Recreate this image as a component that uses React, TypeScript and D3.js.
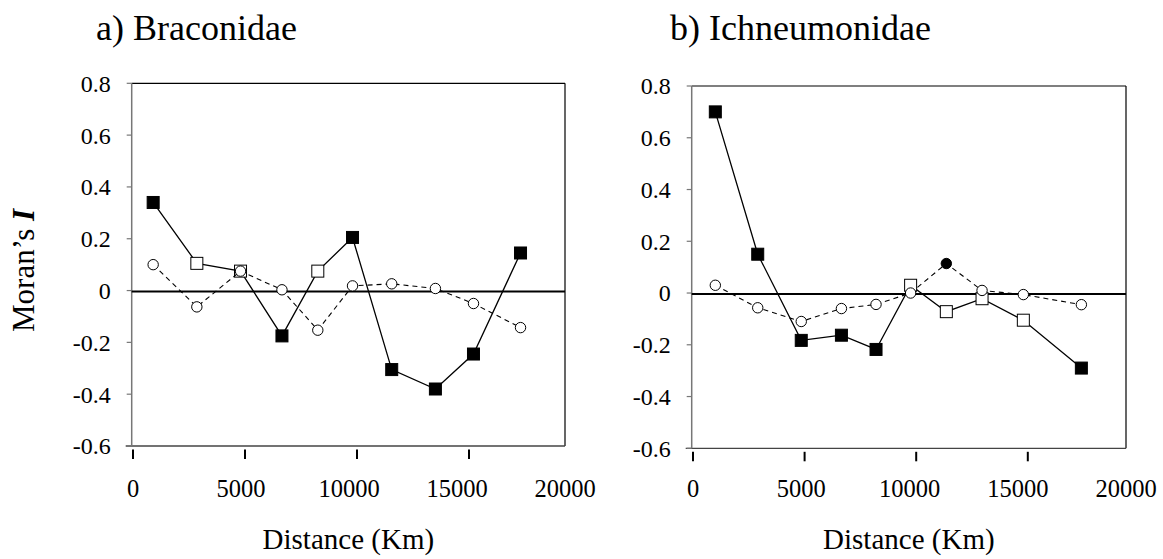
import React from "react";
import * as d3 from "d3";

// ---------- DATA ----------
const yTicks = [0.8, 0.6, 0.4, 0.2, 0, -0.2, -0.4, -0.6];
const xTicks = [0, 5000, 10000, 15000];
const xTickLabels = [0, 5000, 10000, 15000, 20000];

// a) Braconidae
const distA = [900, 2850, 4800, 6650, 8250, 9800, 11550, 13500, 15200, 17300];
const solidA = [0.34, 0.105, 0.075, -0.175, 0.075, 0.205, -0.305, -0.38, -0.245, 0.145];
const solidFilledA = [true, false, false, true, false, true, true, true, true, true];
const dashedA = [0.1, -0.063, 0.075, 0.003, -0.153, 0.018, 0.026, 0.008, -0.05, -0.143];
const dashedFilledA = [false, false, false, false, false, false, false, false, false, false];

// b) Ichneumonidae
const distB = [1000, 2900, 4850, 6650, 8200, 9750, 11350, 12950, 14800, 17400];
const solidB = [0.7, 0.15, -0.183, -0.163, -0.218, 0.03, -0.072, -0.022, -0.105, -0.29];
const solidFilledB = [true, true, true, true, true, false, false, false, false, true];
const dashedB = [0.03, -0.057, -0.11, -0.06, -0.044, 0.0, 0.114, 0.01, -0.006, -0.045];
const dashedFilledB = [false, false, false, false, false, false, true, false, false, false];

const FONT = "Liberation Serif, DejaVu Serif, serif";

type PanelProps = {
  title: string;
  titleX: number;
  left: number;
  right: number;
  top: number;
  bottom: number;
  xEnd: number;
  dist: number[];
  solid: number[];
  solidFilled: boolean[];
  dashed: number[];
  dashedFilled: boolean[];
};

function Panel(p: PanelProps) {
  const x = d3.scaleLinear().domain([0, 20000]).range([p.left + 1.3, p.xEnd]);
  const xl = d3.scaleLinear().domain([0, 20000]).range([p.left + 1.3, p.right]);
  const y = d3.scaleLinear().domain([-0.6, 0.8]).range([p.bottom, p.top]);

  const line = d3
    .line<[number, number]>()
    .x((d) => x(d[0]))
    .y((d) => y(d[1]));

  const solidPts = p.dist.map((d, i) => [d, p.solid[i]] as [number, number]);
  const dashedPts = p.dist.map((d, i) => [d, p.dashed[i]] as [number, number]);
  const sq = 12;

  return (
    <g>
      <text x={p.titleX} y={40} style={{ fontFamily: FONT }} fontSize={36} fill="#000">
        {p.title}
      </text>
      <line x1={p.left} y1={p.top} x2={p.right} y2={p.top} stroke="#000" strokeWidth={1.2} />
      <line x1={p.right} y1={p.top} x2={p.right} y2={p.bottom} stroke="#000" strokeWidth={1.2} />
      <line x1={p.left - 6} y1={p.bottom} x2={p.right} y2={p.bottom} stroke="#444" strokeWidth={1.3} />
      <line x1={p.left} y1={p.top} x2={p.left} y2={p.bottom} stroke="#777" strokeWidth={1.5} />
      {yTicks.map((t) => (
        <g key={t}>
          <line x1={p.left - 5} x2={p.left} y1={y(t)} y2={y(t)} stroke="#777" strokeWidth={1.2} />
          <text
            x={p.left - 21}
            y={y(t)}
            dy="0.35em"
            textAnchor="end"
            style={{ fontFamily: FONT }}
            fontSize={24}
            fill="#000"
          >
            {String(t)}
          </text>
        </g>
      ))}
      <line x1={p.left} x2={p.right} y1={y(0) + 1} y2={y(0) + 1} stroke="#000" strokeWidth={2} />
      {xTicks.map((t) => (
        <line key={t} x1={x(t)} x2={x(t)} y1={p.bottom + 3.5} y2={p.bottom + 13} stroke="#000" strokeWidth={2} />
      ))}
      {xTickLabels.map((t) => (
        <text
          key={t}
          x={xl(t)}
          y={497}
          textAnchor="middle"
          style={{ fontFamily: FONT }}
          fontSize={24.5}
          fill="#000"
        >
          {String(t)}
        </text>
      ))}
      <text
        x={(p.left + p.right) / 2}
        y={549}
        textAnchor="middle"
        style={{ fontFamily: FONT }}
        fontSize={29}
        fill="#000"
      >
        Distance (Km)
      </text>
      <path d={line(solidPts) || ""} fill="none" stroke="#000" strokeWidth={1.3} />
      {solidPts.map((d, i) => (
        <rect
          key={"s" + i}
          x={x(d[0]) - sq / 2}
          y={y(d[1]) - sq / 2}
          width={sq}
          height={sq}
          fill={p.solidFilled[i] ? "#000" : "#fff"}
          stroke="#000"
          strokeWidth={1}
        />
      ))}
      <path d={line(dashedPts) || ""} fill="none" stroke="#000" strokeWidth={1.1} strokeDasharray="5,4" />
      {dashedPts.map((d, i) => (
        <circle
          key={"c" + i}
          cx={x(d[0])}
          cy={y(d[1])}
          r={5.2}
          fill={p.dashedFilled[i] ? "#000" : "#fff"}
          stroke="#000"
          strokeWidth={1}
        />
      ))}
    </g>
  );
}

export default function App() {
  return (
    <svg
      width={1163}
      height={559}
      style={{ position: "absolute", left: 0, top: 0, background: "#fff" }}
    >
      <rect width={1163} height={559} fill="#fff" />
      <text
        transform="translate(34,332) rotate(-90)"
        textAnchor="start"
        style={{ fontFamily: FONT }}
        fontSize={31}
        fill="#000"
      >
        Moran’s <tspan fontStyle="italic" fontWeight="bold">I</tspan>
      </text>
      <Panel
        title="a) Braconidae"
        titleX={96}
        left={131.7}
        right={565}
        top={83.3}
        bottom={446}
        xEnd={581}
        dist={distA}
        solid={solidA}
        solidFilled={solidFilledA}
        dashed={dashedA}
        dashedFilled={dashedFilledA}
      />
      <Panel
        title="b) Ichneumonidae"
        titleX={670}
        left={691.7}
        right={1126}
        top={86}
        bottom={448.3}
        xEnd={1139.4}
        dist={distB}
        solid={solidB}
        solidFilled={solidFilledB}
        dashed={dashedB}
        dashedFilled={dashedFilledB}
      />
    </svg>
  );
}
